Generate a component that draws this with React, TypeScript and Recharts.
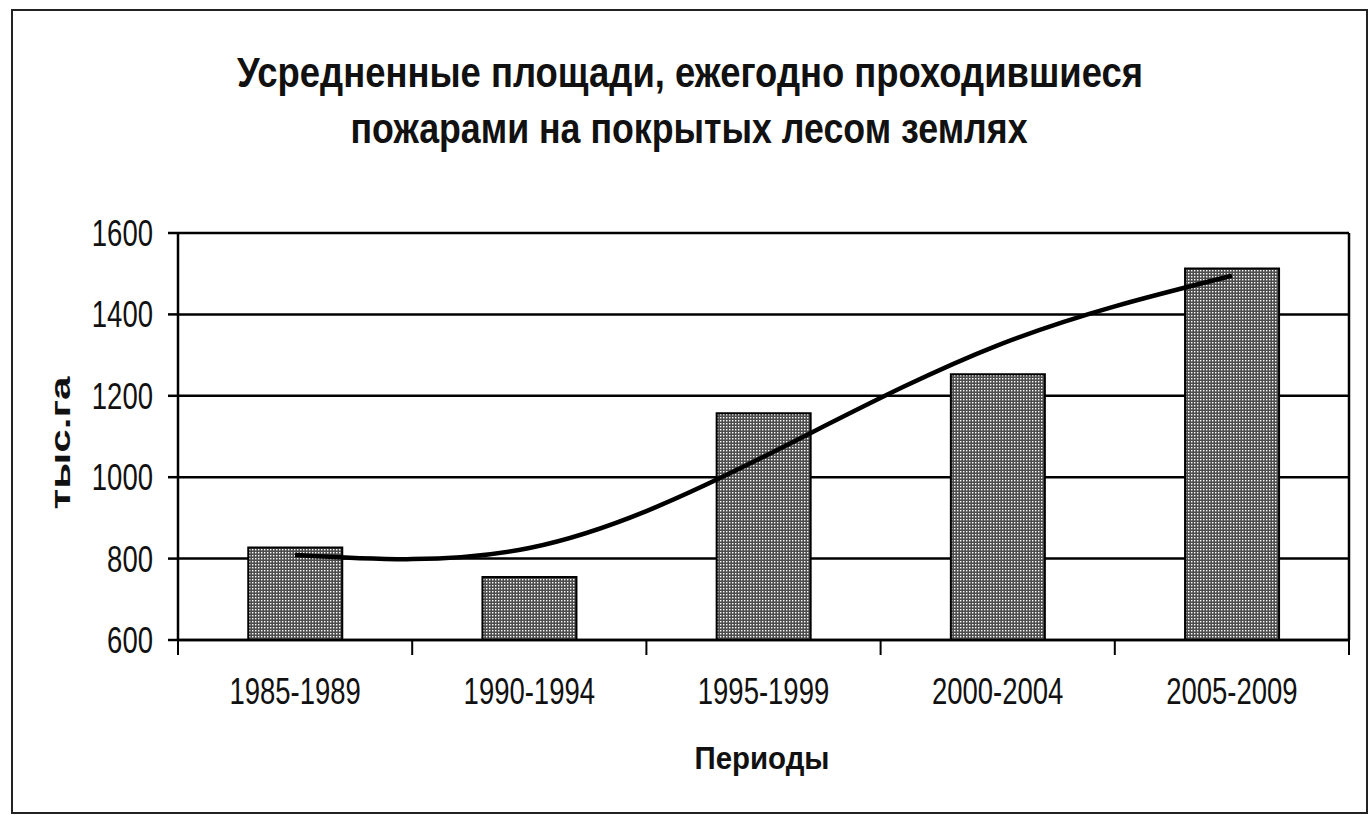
import { ComposedChart, Bar, Line, XAxis, YAxis, CartesianGrid } from 'recharts';

const periods = ['1985-1989', '1990-1994', '1995-1999', '2000-2004', '2005-2009'];
const burnedArea = [827, 755, 1157, 1253, 1513];
// polynomial trend line as drawn in the source, read at each period
const trendValues = [809, 826, 1050, 1324, 1495];
const yTicks = [600, 800, 1000, 1200, 1400, 1600];

const titleLines = [
  'Усредненные площади, ежегодно проходившиеся',
  'пожарами на покрытых лесом землях',
];
const yAxisTitle = 'тыс.га';
const xAxisTitle = 'Периоды';

const W = 1370;
const H = 815;
const PLOT_LEFT = 178;
const PLOT_RIGHT = 1349;
const PLOT_TOP = 233;
const PLOT_BOTTOM = 640;
const HALF_BAND = (PLOT_RIGHT - PLOT_LEFT) / periods.length / 2;

const NARROW = "'Liberation Sans Narrow', 'Arial Narrow', 'Liberation Sans', Arial, sans-serif";
const BOLD = "'Liberation Sans', Arial, sans-serif";

const data = periods.map((p, i) => ({
  period: p,
  area: burnedArea[i],
  trend: trendValues[i],
}));

// squeeze tick labels to the narrow look of the original
function labelWidth(s: string) {
  let w = 0;
  for (const ch of s) w += ch === '-' ? 9 : 15.3;
  return w;
}

function XTick(props: any) {
  const { x, y, payload, index } = props;
  const label = String(payload.value);
  const isLast = index === periods.length - 1;
  return (
    <g>
      <line x1={x - HALF_BAND} y1={y - 8} x2={x - HALF_BAND} y2={y + 7} stroke="#000" strokeWidth={2} />
      {isLast && (
        <line x1={x + HALF_BAND} y1={y - 8} x2={x + HALF_BAND} y2={y + 7} stroke="#000" strokeWidth={2} />
      )}
      <text
        x={x}
        y={y + 56}
        textAnchor="middle"
        fontFamily={NARROW}
        fontSize={36}
        fill="#111"
        textLength={labelWidth(label)}
        lengthAdjust="spacingAndGlyphs"
      >
        {label}
      </text>
    </g>
  );
}

function YTick(props: any) {
  const { x, y, payload } = props;
  const label = String(payload.value);
  return (
    <text
      x={x}
      y={y + 13}
      textAnchor="end"
      fontFamily={NARROW}
      fontSize={36}
      fill="#111"
      textLength={labelWidth(label)}
      lengthAdjust="spacingAndGlyphs"
    >
      {label}
    </text>
  );
}

export default function App() {
  return (
    <div style={{ position: 'absolute', left: 0, top: 0, width: W, height: H, background: '#fff' }}>
      <ComposedChart
        width={W}
        height={H}
        data={data}
        margin={{ top: PLOT_TOP, right: W - PLOT_RIGHT, bottom: 115, left: 0 }}
        barCategoryGap="30%"
      >
        <defs>
          <pattern id="dots" width={3} height={3} patternUnits="userSpaceOnUse">
            <rect width={3} height={3} fill="#4d4d4d" />
            <rect x={0} y={0} width={1.4} height={1.4} fill="#fff" />
          </pattern>
        </defs>
        <CartesianGrid vertical={false} stroke="#000" strokeWidth={2.5} />
        <XAxis
          dataKey="period"
          height={60}
          axisLine={{ stroke: '#000', strokeWidth: 2.5 }}
          tickLine={false}
          tick={<XTick />}
          interval={0}
        />
        <YAxis
          width={PLOT_LEFT}
          domain={[600, 1600]}
          ticks={yTicks}
          interval={0}
          axisLine={{ stroke: '#000', strokeWidth: 2.5 }}
          tickLine={{ stroke: '#000', strokeWidth: 2.5 }}
          tickSize={10}
          tickMargin={15}
          tick={<YTick />}
        />
        <Bar dataKey="area" fill="url(#dots)" stroke="#000" strokeWidth={2} isAnimationActive={false} />
        <Line
          dataKey="trend"
          type="natural"
          stroke="#000"
          strokeWidth={4.5}
          dot={false}
          isAnimationActive={false}
        />
      </ComposedChart>
      <svg
        width={W}
        height={H}
        style={{ position: 'absolute', left: 0, top: 0, pointerEvents: 'none' }}
      >
        <rect x={12} y={10} width={1355} height={803} fill="none" stroke="#222" strokeWidth={2} />
        <line x1={PLOT_RIGHT} y1={PLOT_TOP} x2={PLOT_RIGHT} y2={PLOT_BOTTOM} stroke="#000" strokeWidth={2.5} />
        <text
          x={690}
          y={87}
          textAnchor="middle"
          fontFamily={BOLD}
          fontWeight="bold"
          fontSize={42}
          fill="#111"
          textLength={906}
          lengthAdjust="spacingAndGlyphs"
        >
          {titleLines[0]}
        </text>
        <text
          x={689}
          y={143}
          textAnchor="middle"
          fontFamily={BOLD}
          fontWeight="bold"
          fontSize={42}
          fill="#111"
          textLength={677}
          lengthAdjust="spacingAndGlyphs"
        >
          {titleLines[1]}
        </text>
        <text
          transform="translate(70, 443) rotate(-90)"
          textAnchor="middle"
          fontFamily={BOLD}
          fontWeight="bold"
          fontSize={27}
          fill="#111"
          textLength={133}
          lengthAdjust="spacingAndGlyphs"
        >
          {yAxisTitle}
        </text>
        <text
          x={762}
          y={769}
          textAnchor="middle"
          fontFamily={BOLD}
          fontWeight="bold"
          fontSize={32}
          fill="#111"
          textLength={135}
          lengthAdjust="spacingAndGlyphs"
        >
          {xAxisTitle}
        </text>
      </svg>
    </div>
  );
}
